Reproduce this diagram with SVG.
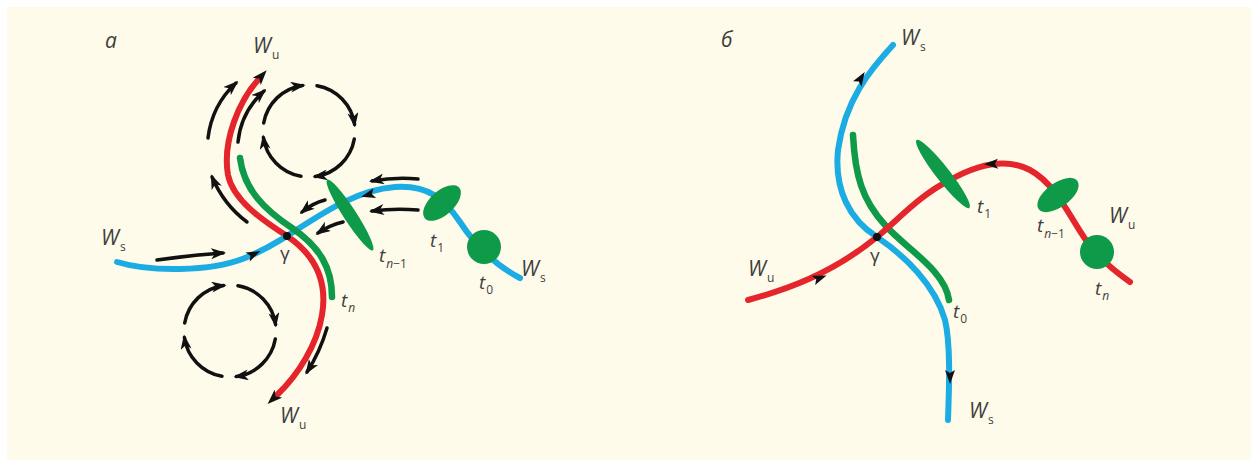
<svg xmlns="http://www.w3.org/2000/svg" width="1251" height="460" viewBox="0 0 1251 460">
<defs>
<style>
.bg{fill:#FEFBEA}
.red{fill:none;stroke:#E4252C;stroke-width:6;stroke-linecap:round}
.blue{fill:none;stroke:#1AACE3;stroke-width:6;stroke-linecap:round}
.green{fill:none;stroke:#0E9A48;stroke-width:6.5;stroke-linecap:round}
.gfill{fill:#0E9A48}
.blk{fill:none;stroke:#111;stroke-width:3.5;stroke-linecap:round;marker-end:url(#ah)}
.tip{fill:#111}
.lbl{font-family:"Open Sans","Liberation Sans",sans-serif;font-style:italic;fill:#3e3e3e}
.big{font-size:21px}
.t{font-size:19px}
.g{font-size:19px;font-style:normal}
.sub{font-size:12px;font-style:normal}
.subi{font-size:12px;font-style:italic}
</style>
<marker id="ah" viewBox="0 0 15 11" refX="12" refY="5.5" markerWidth="15" markerHeight="11" markerUnits="userSpaceOnUse" orient="auto">
<path d="M0,0 L15,5.5 L0,11 L4,5.5 Z" fill="#111"/>
</marker>
<marker id="ahx" viewBox="0 0 15 11" refX="2" refY="5.5" markerWidth="15" markerHeight="11" markerUnits="userSpaceOnUse" orient="auto-start-reverse">
<path d="M0,0 L15,5.5 L0,11 L4,5.5 Z" fill="#111"/>
</marker>
<path id="sm" d="M7,0 L-7,-5 L-4,0 L-7,5 Z"/>
</defs>
<rect x="0" y="0" width="1251" height="460" fill="#ffffff"/>
<rect class="bg" x="7" y="7" width="1244" height="453"/>

<g id="panel-a">
 <g id="connectors-a">
  <path id="a-Wu" class="red" d="M258,80 C240,100 222,140 228,175 C233,200 262,220 287,236 C315,255 328,280 322,315 C317,345 298,375 277,395" marker-start="url(#ahx)" marker-end="url(#ahx)"/>
  <path id="a-Ws" class="blue" d="M117,262 C150,272 210,272 245,258 C265,250 275,243 287,236 C320,215 355,190 395,187 C430,185 445,200 460,222 C475,245 495,265 520,278"/>
  <path id="a-tn" class="green" d="M240,158 C244,190 265,210 292,228 C320,247 332,268 332,297"/>
  <use href="#sm" class="tip" transform="translate(254,254) rotate(-25)"/>
  <use href="#sm" class="tip" transform="translate(368,195) rotate(165)"/>
  <g id="flow-a">
   <path class="blk" d="M208,138 Q212,105 236,83"/>
   <path class="blk" d="M238,142 Q241,112 264,91"/>
   <path class="blk" d="M247,222 Q224,205 212,177"/>
   <path class="blk" d="M327,328 Q320,352 307,372"/>
   <path class="blk" d="M157,260 Q190,255 223,253"/>
   <path class="blk" d="M418,179 Q395,177 372,181"/>
   <path class="blk" d="M418,210 Q395,208 372,211"/>
   <path class="blk" d="M325,200 Q313,203 302,212"/>
   <path class="blk" d="M343,222 Q330,225 318,233"/>
  </g>
  <g id="loop-top">
   <path class="blk" d="M263.7,123 A46,46 0 0 1 302.6,85.4"/>
   <path class="blk" d="M317,85.7 A46,46 0 0 1 354.6,124.6"/>
   <path class="blk" d="M354.3,139 A46,46 0 0 1 315.4,176.6"/>
   <path class="blk" d="M301,176.3 A46,46 0 0 1 263.4,137.4"/>
  </g>
  <g id="loop-bottom">
   <path class="blk" d="M184.7,323 A46,46 0 0 1 223.6,285.4"/>
   <path class="blk" d="M238,285.7 A46,46 0 0 1 275.6,324.6"/>
   <path class="blk" d="M275.3,339 A46,46 0 0 1 236.4,376.6"/>
   <path class="blk" d="M222,376.3 A46,46 0 0 1 184.4,337.4"/>
  </g>
 </g>
 <g id="a-tn1"><ellipse class="gfill" cx="350" cy="215" rx="42" ry="6.5" transform="rotate(57 350 215)"/></g>
 <g id="a-t1"><ellipse class="gfill" cx="442" cy="203" rx="23" ry="12" transform="rotate(-42 442 203)"/></g>
 <g id="a-t0"><circle class="gfill" cx="484" cy="247" r="17"/></g>
 <g id="a-gamma"><circle cx="287" cy="236" r="4" fill="#111"/></g>
 <g id="a-labels" class="lbl">
  <text class="big" x="105" y="48">а</text>
  <text class="big" x="253" y="53">W<tspan class="sub" dx="1" dy="6">u</tspan></text>
  <text class="big" x="101" y="245">W<tspan class="sub" dx="1" dy="6">s</tspan></text>
  <text class="g" x="280" y="260">γ</text>
  <text class="t" x="379" y="262">t<tspan class="subi" dx="1" dy="6">n</tspan><tspan class="sub">−1</tspan></text>
  <text class="t" x="430" y="247">t<tspan class="sub" dx="1" dy="5">1</tspan></text>
  <text class="t" x="479" y="289">t<tspan class="sub" dx="1" dy="5">0</tspan></text>
  <text class="big" x="521" y="276">W<tspan class="sub" dx="1" dy="6">s</tspan></text>
  <text class="t" x="341" y="307">t<tspan class="subi" dx="1" dy="5">n</tspan></text>
  <text class="big" x="280" y="423">W<tspan class="sub" dx="1" dy="6">u</tspan></text>
 </g>
</g>

<g id="panel-b">
 <g id="connectors-b">
  <path id="b-Ws" class="blue" d="M893,45 C870,70 845,100 838,150 C834,190 850,220 877,237 C905,256 935,285 945,320 C951,345 949,390 948,420"/>
  <path id="b-t0" class="green" d="M853,135 C855,175 862,200 885,225 C905,248 945,270 949,300"/>
  <path id="b-Wu" class="red" d="M748,300 C785,290 830,275 877,237 C900,218 920,195 950,180 C975,166 1005,157 1030,170 C1060,186 1075,230 1095,252 C1108,266 1120,275 1130,282"/>
  <use href="#sm" class="tip" transform="translate(861,78) rotate(-58)"/>
  <use href="#sm" class="tip" transform="translate(950,377) rotate(90)"/>
  <use href="#sm" class="tip" transform="translate(820,278) rotate(-20)"/>
  <use href="#sm" class="tip" transform="translate(991,164) rotate(178)"/>
 </g>
 <g id="b-t1"><ellipse class="gfill" cx="943" cy="174" rx="43" ry="7" transform="rotate(52 943 174)"/></g>
 <g id="b-tn1"><ellipse class="gfill" cx="1058" cy="195" rx="24" ry="12" transform="rotate(-36 1058 195)"/></g>
 <g id="b-tn"><circle class="gfill" cx="1097" cy="252" r="17"/></g>
 <g id="b-gamma"><circle cx="877" cy="237" r="4" fill="#111"/></g>
 <g id="b-labels" class="lbl">
  <text class="big" x="721" y="47">б</text>
  <text class="big" x="901" y="45">W<tspan class="sub" dx="1" dy="6">s</tspan></text>
  <text class="g" x="870" y="262">γ</text>
  <text class="big" x="748" y="276">W<tspan class="sub" dx="1" dy="6">u</tspan></text>
  <text class="t" x="953" y="318">t<tspan class="sub" dx="1" dy="5">0</tspan></text>
  <text class="t" x="977" y="213">t<tspan class="sub" dx="1" dy="5">1</tspan></text>
  <text class="t" x="1037" y="232">t<tspan class="subi" dx="1" dy="6">n</tspan><tspan class="sub">−1</tspan></text>
  <text class="big" x="1109" y="223">W<tspan class="sub" dx="1" dy="6">u</tspan></text>
  <text class="t" x="1095" y="295">t<tspan class="subi" dx="1" dy="5">n</tspan></text>
  <text class="big" x="969" y="418">W<tspan class="sub" dx="1" dy="6">s</tspan></text>
 </g>
</g>
</svg>
